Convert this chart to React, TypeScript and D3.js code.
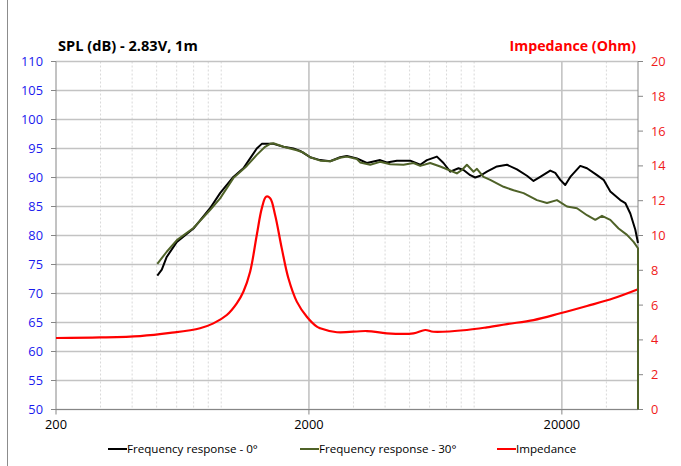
import React from "react";
import * as d3 from "d3";

const W = 681;
const H = 466;
const margin = { top: 61.5, right: 43, bottom: 56.5, left: 56 };

// Frequency response 0° (Hz, dB)
const freq0 = [503, 524, 548, 601, 699, 813, 891, 1005, 1101, 1171, 1244, 1302, 1383, 1448, 1586, 1737, 1846, 2022, 2215, 2426, 2657, 2824, 3094, 3388, 3825, 4066, 4455, 5029, 5509, 5855, 6412, 6808, 7238, 7807, 8172, 8685, 9089, 9513, 10108, 11077, 12132, 13287, 14555, 15454, 16426, 17996, 18834, 19713, 20627, 21593, 23650, 25143, 27538, 29242, 31087, 34044, 35632, 37295, 39035, 40000];
const spl0 = [73.1, 74.1, 76.3, 78.9, 81.2, 84.7, 87.3, 90.1, 91.6, 93.3, 95.0, 95.8, 95.8, 95.8, 95.3, 95.0, 94.6, 93.5, 93.0, 92.8, 93.5, 93.7, 93.3, 92.5, 93.0, 92.6, 92.9, 92.9, 92.2, 93.0, 93.6, 92.5, 91.0, 91.6, 91.3, 90.4, 90.0, 90.3, 91.0, 91.9, 92.2, 91.4, 90.3, 89.4, 90.1, 91.2, 90.8, 89.6, 88.7, 90.1, 92.0, 91.6, 90.4, 89.6, 87.6, 86.1, 85.6, 83.8, 81.0, 78.7];

// Frequency response 30° (Hz, dB)
const freq30 = [503, 548, 601, 699, 813, 891, 1005, 1136, 1244, 1342, 1405, 1448, 1586, 1791, 1902, 2022, 2215, 2426, 2657, 2824, 3094, 3188, 3494, 3825, 4192, 4730, 5182, 5509, 6032, 6607, 7238, 7691, 8050, 8425, 8950, 9232, 9800, 10418, 11764, 12884, 14112, 15939, 17463, 19126, 20949, 22951, 25143, 27110, 28818, 31087, 33521, 36187, 38427, 40000, 40000];
const spl30 = [75.1, 77.2, 79.2, 81.3, 84.4, 86.4, 89.9, 92.0, 93.9, 95.3, 95.8, 95.9, 95.3, 94.7, 94.3, 93.5, 92.9, 92.8, 93.4, 93.6, 93.2, 92.6, 92.2, 92.7, 92.3, 92.2, 92.5, 92.0, 92.5, 91.9, 91.2, 90.7, 91.3, 92.2, 91.0, 91.5, 90.1, 89.6, 88.4, 87.8, 87.3, 86.1, 85.6, 86.1, 85.0, 84.7, 83.5, 82.7, 83.4, 82.7, 81.2, 80.1, 78.9, 77.8, 50];

// Impedance (Hz, Ohm)
const freqZ = [200, 299, 430, 565, 742, 838, 947, 1037, 1101, 1171, 1244, 1302, 1354, 1405, 1470, 1562, 1659, 1791, 1962, 2150, 2215, 2580, 3388, 4066, 5182, 5764, 6216, 8425, 10108, 12132, 15454, 19713, 25143, 32023, 40000];
const ohmZ = [4.11, 4.14, 4.22, 4.4, 4.67, 4.95, 5.43, 6.1, 6.77, 7.92, 10.03, 11.56, 12.23, 12.14, 11.18, 9.26, 7.54, 6.2, 5.33, 4.76, 4.67, 4.44, 4.51, 4.38, 4.38, 4.57, 4.47, 4.57, 4.72, 4.91, 5.14, 5.53, 5.95, 6.39, 6.91];

const splTicks = [50, 55, 60, 65, 70, 75, 80, 85, 90, 95, 100, 105, 110];
const ohmTicks = [0, 2, 4, 6, 8, 10, 12, 14, 16, 18, 20];
const freqTicks = [200, 2000, 20000];
const minorFreqs = [300, 400, 500, 600, 700, 800, 900, 3000, 4000, 5000, 6000, 7000, 8000, 9000, 30000];

const legendItems = [
  { label: "Frequency response - 0°", color: "#000000", x: 108 },
  { label: "Frequency response - 30°", color: "#4f6228", x: 300 },
  { label: "Impedance", color: "#ff0000", x: 497 },
];

const font = "'Open Sans', sans-serif";

export default function App() {
  const x = d3.scaleLog().domain([200, 40000]).range([margin.left, W - margin.right]);
  const y = d3.scaleLinear().domain([50, 110]).range([H - margin.bottom, margin.top]);
  const yZ = d3.scaleLinear().domain([0, 20]).range([H - margin.bottom, margin.top]);

  const mk = (fs: number[], vs: number[], sc: d3.ScaleLinear<number, number>, curve: d3.CurveFactory) =>
    d3
      .line<number>()
      .x((_, i) => x(fs[i]))
      .y((v) => sc(v))
      .curve(curve)(vs) || "";

  const x0 = margin.left;
  const x1 = W - margin.right;
  const y0 = margin.top;
  const y1 = H - margin.bottom;

  return (
    <svg width={W} height={H} style={{ position: "absolute", left: 0, top: 0, background: "#fff" }} fontFamily={font}>
      <line x1={7.5} x2={7.5} y1={0} y2={H} stroke="#8c8c8c" strokeWidth={1} />

      {/* minor vertical grid */}
      {minorFreqs.map((f) => (
        <line key={f} x1={x(f)} x2={x(f)} y1={y0} y2={y1} stroke="#d9d9d9" strokeWidth={1} strokeDasharray="2,2" />
      ))}
      {/* major vertical grid */}
      {freqTicks.slice(1).map((f) => (
        <line key={f} x1={x(f)} x2={x(f)} y1={y0} y2={y1} stroke="#bfbfbf" strokeWidth={1.5} />
      ))}
      {/* horizontal grid */}
      {splTicks.map((t) => (
        <line key={t} x1={x0} x2={x1} y1={y(t)} y2={y(t)} stroke="#c3c3c3" strokeWidth={1.5} />
      ))}

      {/* axes */}
      <line x1={x0} x2={x0} y1={y0} y2={y1} stroke="#868686" />
      <line x1={x1} x2={x1} y1={y0} y2={y1} stroke="#868686" />
      <line x1={x0} x2={x1} y1={y1} y2={y1} stroke="#868686" />
      {splTicks.map((t) => (
        <g key={t}>
          <line x1={x0 - 5} x2={x0} y1={y(t)} y2={y(t)} stroke="#868686" />
          <text x={x0 - 13} y={y(t)} dy="0.35em" textAnchor="end" fontSize={12.8} fill="#1a1aee">
            {t}
          </text>
        </g>
      ))}
      {ohmTicks.map((t) => (
        <g key={t}>
          <line x1={x1} x2={x1 + 5} y1={yZ(t)} y2={yZ(t)} stroke="#868686" />
          <text x={x1 + 13} y={yZ(t)} dy="0.35em" textAnchor="start" fontSize={12.8} fill="#f01a1a">
            {t}
          </text>
        </g>
      ))}
      {freqTicks.map((f) => (
        <g key={f}>
          <line x1={x(f)} x2={x(f)} y1={y1} y2={y1 + 5} stroke="#868686" />
          <text x={x(f)} y={y1 + 15} dy="0.35em" textAnchor="middle" fontSize={12.8} fill="#000">
            {f}
          </text>
        </g>
      ))}

      {/* titles */}
      <text x={58} y={46} dy="0.35em" fontSize={14.6} fontWeight="bold" fill="#000">
        SPL (dB) - 2.83V, 1m
      </text>
      <text x={636} y={46} dy="0.35em" textAnchor="end" fontSize={14.2} fontWeight="bold" fill="#ff0000">
        Impedance (Ohm)
      </text>

      {/* series */}
      <path d={mk(freqZ, ohmZ, yZ, d3.curveCatmullRom.alpha(0.5))} fill="none" stroke="#ff0000" strokeWidth={2.2} strokeLinejoin="round" />
      <path d={mk(freq0, spl0, y, d3.curveLinear)} fill="none" stroke="#000000" strokeWidth={2} strokeLinejoin="round" />
      <path d={mk(freq30, spl30, y, d3.curveLinear)} fill="none" stroke="#4f6228" strokeWidth={2} strokeLinejoin="round" />

      {/* legend */}
      {legendItems.map((it) => (
        <g key={it.label}>
          <line x1={it.x} x2={it.x + 19} y1={449} y2={449} stroke={it.color} strokeWidth={2} />
          <text x={it.x + 19} y={449} dy="0.35em" fontSize={11.6} fill="#000">
            {it.label}
          </text>
        </g>
      ))}
    </svg>
  );
}
